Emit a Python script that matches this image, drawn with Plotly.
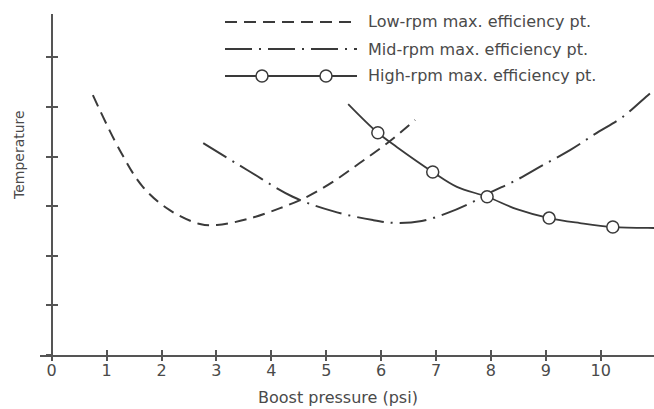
import plotly.graph_objects as go

# ---------------- data ----------------
low_psi = [0.75, 1.24, 1.66, 2.15, 2.70, 3.01, 3.56, 4.16, 4.65, 5.12, 5.61, 6.11, 6.62]
low_temp = [5.24, 4.13, 3.39, 2.92, 2.64, 2.62, 2.74, 2.96, 3.19, 3.49, 3.87, 4.27, 4.74]

mid_psi = [2.76, 3.56, 4.39, 5.12, 5.85, 6.29, 6.74, 7.20, 7.62, 7.98, 8.47, 8.95, 9.44, 9.93, 10.40, 10.97, 11.17]
mid_temp = [4.27, 3.73, 3.19, 2.90, 2.72, 2.66, 2.70, 2.86, 3.06, 3.27, 3.53, 3.83, 4.13, 4.48, 4.80, 5.34, 5.48]

high_psi = [5.40, 5.94, 6.29, 6.94, 7.38, 7.93, 8.47, 9.06, 9.62, 10.22, 10.97, 11.17]
high_temp = [5.06, 4.48, 4.19, 3.69, 3.39, 3.19, 2.94, 2.76, 2.66, 2.58, 2.56, 2.56]

high_marker_psi = [5.94, 6.94, 7.93, 9.06, 10.22]
high_marker_temp = [4.48, 3.69, 3.19, 2.76, 2.58]

x_tick_values = [0, 1, 2, 3, 4, 5, 6, 7, 8, 9, 10]
x_tick_labels = ["0", "1", "2", "3", "4", "5", "6", "7", "8", "9", "10"]

series_names = ["Low-rpm max. efficiency pt.",
                "Mid-rpm max. efficiency pt.",
                "High-rpm max. efficiency pt."]

x_title = "Boost pressure (psi)"
y_title = "Temperature"

# ---------------- styling ----------------
W, H = 654, 409
ML, MR, MT, MB = 40, 0, 14, 54
PW, PH = W - ML - MR, H - MT - MB
XR = [-0.213, 10.97]
YR = [0, 6.875]
FONT = "DejaVu Sans"
LINE_C = "#3a3a3a"
AXIS_C = "#555555"
TEXT_C = "#4a4a4a"
DASH_LOW = "12px,7px"
DASH_MID = "27px,7px,2px,7px"

def px_x(p):
    return (p - ML) / PW

def px_y(p):
    return (H - MB - p) / PH

y_axis_pos = (0 - XR[0]) / (XR[1] - XR[0])

fig = go.Figure()
fig.add_trace(go.Scatter(x=low_psi, y=low_temp, mode="lines", line_shape="spline",
                         line=dict(color=LINE_C, width=2, dash=DASH_LOW),
                         name=series_names[0], showlegend=False))
fig.add_trace(go.Scatter(x=mid_psi, y=mid_temp, mode="lines", line_shape="spline",
                         line=dict(color=LINE_C, width=2, dash=DASH_MID),
                         name=series_names[1], showlegend=False))
fig.add_trace(go.Scatter(x=high_psi, y=high_temp, mode="lines", line_shape="spline",
                         line=dict(color=LINE_C, width=1.8),
                         name=series_names[2], showlegend=False))
fig.add_trace(go.Scatter(x=high_marker_psi, y=high_marker_temp, mode="markers",
                         marker=dict(size=12, color="white",
                                     line=dict(color=LINE_C, width=1.5)),
                         name=series_names[2], showlegend=False))
# helper traces so the overlay axes (crossing ticks) are drawn
fig.add_trace(go.Scatter(x=[], y=[], xaxis="x2", yaxis="y", showlegend=False, hoverinfo="skip"))
fig.add_trace(go.Scatter(x=[], y=[], xaxis="x", yaxis="y2", showlegend=False, hoverinfo="skip"))

# ---------------- hand-drawn legend ----------------
shapes = []
annotations = []
rows_y = [22, 49, 76]
dashes = [DASH_LOW, DASH_MID, "solid"]
for i, (name, ry) in enumerate(zip(series_names, rows_y)):
    shapes.append(dict(type="line", xref="paper", yref="paper",
                       x0=px_x(225), x1=px_x(357), y0=px_y(ry), y1=px_y(ry),
                       line=dict(color=LINE_C, width=2 if i < 2 else 1.8, dash=dashes[i])))
    annotations.append(dict(text=name, xref="paper", yref="paper",
                            x=px_x(366), y=px_y(ry), xanchor="left", yanchor="middle",
                            showarrow=False, font=dict(family=FONT, size=16, color=TEXT_C)))
for cx in [262, 326]:
    shapes.append(dict(type="circle", xref="paper", yref="paper",
                       xsizemode="pixel", ysizemode="pixel",
                       xanchor=px_x(cx), yanchor=px_y(rows_y[2]),
                       x0=-6, x1=6, y0=-6, y1=6,
                       fillcolor="white", line=dict(color=LINE_C, width=1.5)))

annotations.append(dict(text=x_title, xref="paper", yref="paper",
                        x=px_x(338), y=px_y(398), xanchor="center", yanchor="middle",
                        showarrow=False, font=dict(family=FONT, size=16, color=TEXT_C)))
annotations.append(dict(text=y_title, xref="paper", yref="paper",
                        x=px_x(19), y=px_y(155), xanchor="center", yanchor="middle",
                        textangle=-90, showarrow=False,
                        font=dict(family=FONT, size=14, color=TEXT_C)))

common_x = dict(range=XR, tickmode="array", tickvals=x_tick_values, showgrid=False,
                zeroline=False, fixedrange=True)
common_y = dict(range=YR, dtick=1, tick0=0, showgrid=False, zeroline=False,
                showticklabels=False, fixedrange=True)

fig.update_layout(
    width=W, height=H,
    margin=dict(l=ML, r=MR, t=MT, b=MB, pad=0),
    paper_bgcolor="white", plot_bgcolor="white",
    showlegend=False,
    xaxis=dict(**common_x, ticktext=x_tick_labels, showline=True, linecolor=AXIS_C,
               linewidth=1.6, ticks="inside", ticklen=5, tickwidth=1.5, tickcolor=AXIS_C,
               anchor="y", side="bottom",
               tickfont=dict(family=FONT, size=16, color=TEXT_C)),
    xaxis2=dict(**common_x, ticktext=x_tick_labels, overlaying="x", anchor="y", side="bottom",
                showline=False, ticks="outside", ticklen=5, tickwidth=1.5, tickcolor=AXIS_C,
                showticklabels=False),
    yaxis=dict(**common_y, anchor="free", position=y_axis_pos, showline=True,
               linecolor=AXIS_C, linewidth=1.6, ticks="outside", ticklen=5,
               tickwidth=1.5, tickcolor=AXIS_C),
    yaxis2=dict(**common_y, overlaying="y", anchor="free", position=y_axis_pos,
                showline=False, ticks="inside", ticklen=5, tickwidth=1.5, tickcolor=AXIS_C),
    shapes=shapes,
    annotations=annotations,
)

fig.write_html("out.html", config={"displayModeBar": False},
               post_script="document.body.style.margin='0';document.body.style.overflow='hidden';")
